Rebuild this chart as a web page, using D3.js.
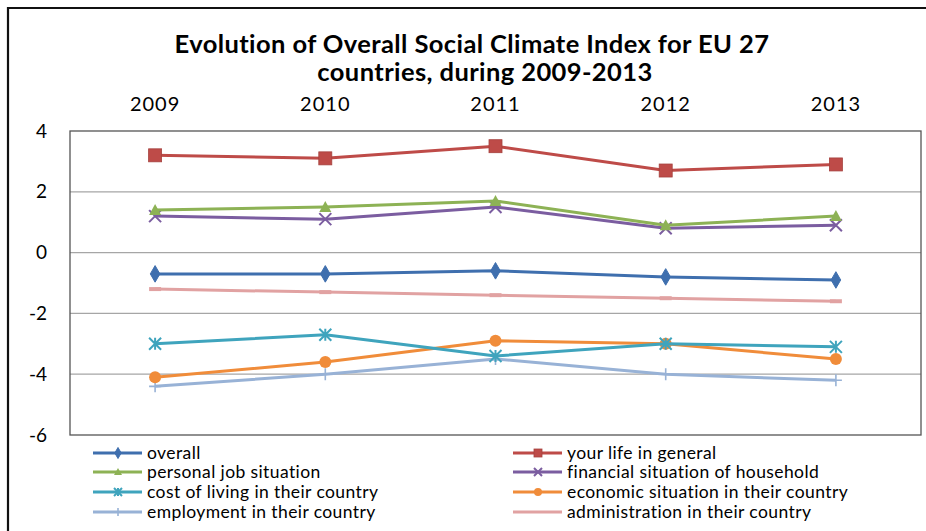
<!DOCTYPE html>
<html>
<head>
<meta charset="utf-8">
<script src="https://cdn.jsdelivr.net/npm/d3@7"></script>
<style>
  html, body { margin: 0; padding: 0; background: #fff; }
  svg { display: block; }
  text { font-family: Lato, "Open Sans", sans-serif; fill: #000; }
</style>
</head>
<body>
<script>
// Survey years and y-axis ticks
const years = ["2009", "2010", "2011", "2012", "2013"];
const yTicks = [4, 2, 0, -2, -4, -6];

// Index values per dimension, one per year
const overall        = [-0.7, -0.7, -0.6, -0.8, -0.9];
const lifeInGeneral  = [3.2, 3.1, 3.5, 2.7, 2.9];
const personalJob    = [1.4, 1.5, 1.7, 0.9, 1.2];
const financialHH    = [1.2, 1.1, 1.5, 0.8, 0.9];
const costOfLiving   = [-3.0, -2.7, -3.4, -3.0, -3.1];
const economicSit    = [-4.1, -3.6, -2.9, -3.0, -3.5];
const employment     = [-4.4, -4.0, -3.5, -4.0, -4.2];
const administration = [-1.2, -1.3, -1.4, -1.5, -1.6];

const seriesNames = [
  "overall", "your life in general",
  "personal job situation", "financial situation of household",
  "cost of living in their country", "economic situation in their country",
  "employment in their country", "administration in their country"
];
const seriesValues = [overall, lifeInGeneral, personalJob, financialHH,
                      costOfLiving, economicSit, employment, administration];

const series = seriesNames.map((name, i) => ({ name, values: seriesValues[i] }));

const styles = {
  "overall":                              { color: "#3F6FAE", marker: "diamond" },
  "your life in general":                 { color: "#BE4B48", marker: "square" },
  "personal job situation":               { color: "#8DB255", marker: "triangle" },
  "financial situation of household":     { color: "#7B5DA0", marker: "cross" },
  "cost of living in their country":      { color: "#3FA4BD", marker: "star" },
  "economic situation in their country":  { color: "#F08C3A", marker: "circle" },
  "employment in their country":          { color: "#98B2D6", marker: "plus" },
  "administration in their country":      { color: "#E1A2A2", marker: "dash" }
};

const W = 926, H = 531;
const svg = d3.select("body").append("svg").attr("width", W).attr("height", H);

// Outer chart frame (top and left edges)
svg.append("path")
  .attr("d", `M8,${H} L8,8 L${W},8`)
  .attr("fill", "none").attr("stroke", "#111").attr("stroke-width", 2.2);

// Title
const title = svg.append("text")
  .attr("text-anchor", "middle")
  .attr("font-weight", "bold")
  .attr("font-size", 25.5)
  .attr("letter-spacing", 0.4);
title.append("tspan").attr("x", 472).attr("y", 53).text("Evolution of Overall Social Climate Index for EU 27");
title.append("tspan").attr("x", 485).attr("y", 81).text("countries, during 2009-2013");

// Plot area
const plot = { left: 70, right: 921, top: 131, bottom: 435 };

const x = d3.scaleBand().domain(years).range([plot.left, plot.right]);
const y = d3.scaleLinear().domain([-6, 4]).range([plot.bottom, plot.top]);

// Gridlines
svg.append("g")
  .selectAll("line")
  .data(yTicks.filter(t => t > -6 && t < 4))
  .join("line")
  .attr("x1", plot.left).attr("x2", plot.right)
  .attr("y1", d => y(d)).attr("y2", d => y(d))
  .attr("stroke", "#A6A6A6").attr("stroke-width", 1.2);

// Plot border
svg.append("rect")
  .attr("x", plot.left).attr("y", plot.top)
  .attr("width", plot.right - plot.left).attr("height", plot.bottom - plot.top)
  .attr("fill", "none").attr("stroke", "#555").attr("stroke-width", 1.3);

// Y axis labels
const yAxis = d3.axisLeft(y).tickValues(yTicks).tickSize(0).tickPadding(0).tickFormat(d3.format("d"));
const gy = svg.append("g").attr("transform", `translate(47,0)`).call(yAxis);
gy.select(".domain").remove();
gy.selectAll("text")
  .attr("font-size", 19)
  .attr("font-family", "Lato, 'Open Sans', sans-serif")
  .attr("fill", "#000")
  .text(d => d < 0 ? "-" + Math.abs(d) : d);

// Year labels along the top
const xAxis = d3.axisTop(x).tickSize(0).tickPadding(0);
const gx = svg.append("g").attr("transform", `translate(0,111)`).call(xAxis);
gx.select(".domain").remove();
gx.selectAll("text")
  .attr("font-size", 20)
  .attr("letter-spacing", 1)
  .attr("font-family", "Lato, 'Open Sans', sans-serif")
  .attr("fill", "#000");

// Marker drawing
function drawMarker(g, type, color, size) {
  const s = size;
  switch (type) {
    case "diamond":
      g.append("path").attr("d", d3.symbol(d3.symbolDiamond, s * s * 0.55)())
        .attr("fill", color).attr("stroke", color);
      break;
    case "square":
      g.append("rect").attr("x", -s / 2).attr("y", -s / 2).attr("width", s).attr("height", s)
        .attr("fill", color).attr("stroke", d3.color(color).darker(0.4)).attr("stroke-width", 0.8);
      break;
    case "triangle":
      g.append("path").attr("d", `M0,${-s / 2} L${s / 2},${s / 2 - 1} L${-s / 2},${s / 2 - 1} Z`)
        .attr("fill", color);
      break;
    case "circle":
      g.append("circle").attr("r", s / 2).attr("fill", color);
      break;
    case "cross":
      g.append("path").attr("d", `M${-s / 2},${-s / 2} L${s / 2},${s / 2} M${-s / 2},${s / 2} L${s / 2},${-s / 2}`)
        .attr("stroke", color).attr("stroke-width", 2);
      break;
    case "star":
      g.append("path").attr("d",
        `M${-s / 2},${-s / 2} L${s / 2},${s / 2} M${-s / 2},${s / 2} L${s / 2},${-s / 2} M0,${-s / 2} L0,${s / 2}`)
        .attr("stroke", color).attr("stroke-width", 2);
      break;
    case "plus":
      g.append("path").attr("d", `M${-s / 2},0 L${s / 2},0 M0,${-s / 2} L0,${s / 2}`)
        .attr("stroke", color).attr("stroke-width", 1.6);
      break;
    case "dash":
      g.append("path").attr("d", `M${-s / 2},0 L${s / 2},0`)
        .attr("stroke", color).attr("stroke-width", 4);
      break;
  }
}

const line = d3.line()
  .x((d, i) => x(years[i]) + x.bandwidth() / 2)
  .y(d => y(d));

// Series lines and markers (drawn in reverse so "overall" sits on top)
const gSeries = svg.append("g");
series.slice().reverse().forEach(s => {
  const st = styles[s.name];
  gSeries.append("path")
    .datum(s.values)
    .attr("d", line)
    .attr("fill", "none")
    .attr("stroke", st.color)
    .attr("stroke-width", 3)
    .attr("stroke-linejoin", "round");
  s.values.forEach((v, i) => {
    const g = gSeries.append("g")
      .attr("transform", `translate(${x(years[i]) + x.bandwidth() / 2},${y(v)})`);
    drawMarker(g, st.marker, st.color, st.marker === "square" ? 13 : 12);
  });
});

// Legend: two columns, four rows
const legendCols = [93, 513];
const legendRows = [453, 472, 492, 512];
const legend = svg.append("g");
series.forEach((s, i) => {
  const st = styles[s.name];
  const lx = legendCols[i % 2], ly = legendRows[Math.floor(i / 2)];
  const g = legend.append("g").attr("transform", `translate(${lx},${ly})`);
  g.append("line").attr("x1", 0).attr("x2", 49).attr("y1", 0).attr("y2", 0)
    .attr("stroke", st.color).attr("stroke-width", 3);
  if (st.marker !== "dash") {
    const m = g.append("g").attr("transform", "translate(25,0)");
    drawMarker(m, st.marker, st.color, 8);
  }
  g.append("text").attr("x", 54).attr("y", 0).attr("dy", "0.35em")
    .attr("font-size", 17.5).attr("letter-spacing", 0.4).text(s.name);
});
</script>
</body>
</html>
